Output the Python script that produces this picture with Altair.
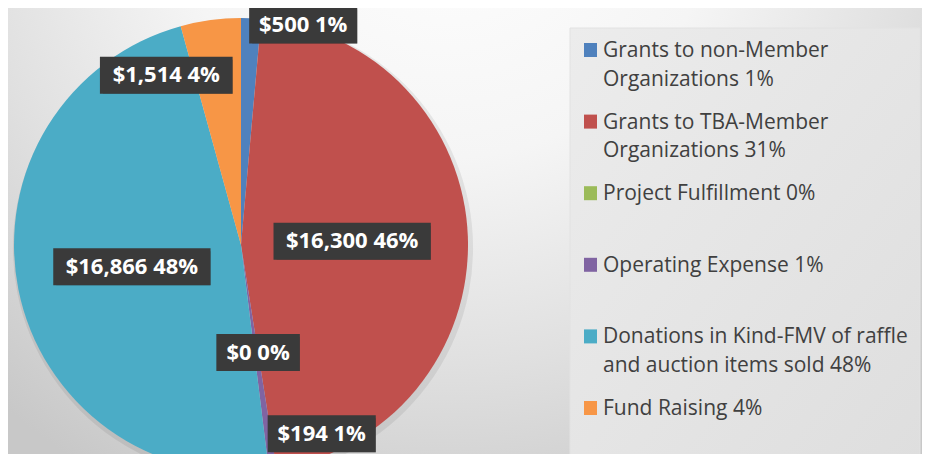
import altair as alt
import pandas as pd

# ---- data ----
categories = [
    "Grants to non-Member Organizations",
    "Grants to TBA-Member Organizations",
    "Project Fulfillment",
    "Operating Expense",
    "Donations in Kind-FMV of raffle and auction items sold",
    "Fund Raising",
]
legend_labels = [
    "Grants to non-Member\nOrganizations 1%",
    "Grants to TBA-Member\nOrganizations 31%",
    "Project Fulfillment 0%",
    "Operating Expense 1%",
    "Donations in Kind-FMV of raffle\nand auction items sold 48%",
    "Fund Raising 4%",
]
amounts = [500, 16300, 0, 194, 16866, 1514]
amount_labels = ["$500", "$16,300", "$0", "$194", "$16,866", "$1,514"]
pct_labels = ["1%", "46%", "0%", "1%", "48%", "4%"]
colors = ["#4F81BD", "#C0504D", "#9BBB59", "#8064A2", "#4BACC6", "#F79646"]

# ---- layout (not data) ----
W, H = 914, 446
CX, CY, R = 233, 237, 227
label_radius = [0.97, 0.49, 0.48, 0.84, 0.49, 0.755]   # fraction of R
label_shift = [0.97, 0.0, 0.0, 1.0, 0.0, 0.78]        # fraction of half box width
LEG_Y0, LEG_STEP = 49, 71.6

df = pd.DataFrame({
    "category": categories,
    "legend": legend_labels,
    "amount": amounts,
    "label": [a + " " + p for a, p in zip(amount_labels, pct_labels)],
    "order": list(range(len(categories))),
    "lr": label_radius,
    "ls": label_shift,
})

one = pd.DataFrame({"k": [0]})

background = alt.Chart(one).mark_rect(
    fill={
        "gradient": "radial",
        "x1": 0.48, "y1": 0.12, "r1": 0.0,
        "x2": 0.48, "y2": 0.12, "r2": 0.75,
        "stops": [
            {"offset": 0.0, "color": "#ffffff"},
            {"offset": 0.4, "color": "#f5f5f5"},
            {"offset": 0.7, "color": "#e0e0e0"},
            {"offset": 1.0, "color": "#c8c8c8"},
        ],
    }
).encode(x=alt.value(0), x2=alt.value(W), y=alt.value(0), y2=alt.value(H))

legend_box = alt.Chart(one).mark_rect(
    fill={
        "gradient": "linear",
        "x1": 0, "y1": 0, "x2": 1, "y2": 1,
        "stops": [
            {"offset": 0.0, "color": "#ececec"},
            {"offset": 1.0, "color": "#dedede"},
        ],
    },
    stroke="#e2e2e2",
    strokeWidth=1,
).encode(x=alt.value(562), x2=alt.value(912), y=alt.value(20), y2=alt.value(H + 10))

color_scale = alt.Scale(domain=categories, range=colors)

base = alt.Chart(df)

pie_shadow = alt.Chart(one).mark_arc(
    radius=R + 3, theta=0, theta2=6.2832, color="#000000", opacity=0.07
).encode(x=alt.value(CX + 2), y=alt.value(CY + 3))

pie = base.mark_arc(radius=R).encode(
    theta=alt.Theta("amount:Q", stack=True),
    color=alt.Color("category:N", scale=color_scale, legend=None),
    order=alt.Order("order:Q"),
    x=alt.value(CX),
    y=alt.value(CY),
)

lab = (
    base.transform_joinaggregate(total="sum(amount)")
    .transform_window(cum="sum(amount)", sort=[alt.SortField("order")], frame=[None, 0])
    .transform_calculate(a="2*PI*(datum.cum - datum.amount/2)/datum.total")
    .transform_calculate(hw="6.15*length(datum.label)+11")
    .transform_calculate(
        lx=f"{CX} + datum.lr*{R}*sin(datum.a) + datum.ls*datum.hw*(sin(datum.a) >= 0 ? 1 : -1)"
    )
    .transform_calculate(ly=f"{CY} - datum.lr*{R}*cos(datum.a)")
    .transform_calculate(x1="datum.lx - datum.hw", x2="datum.lx + datum.hw")
    .transform_calculate(y1="datum.ly - 18.5", y2="datum.ly + 18.5")
)

box_shadow = lab.mark_rect(color="#000000", opacity=0.3, xOffset=3, yOffset=3).encode(
    x=alt.X("x1:Q", scale=None), x2="x2:Q", y=alt.Y("y1:Q", scale=None), y2="y2:Q"
)
boxes = lab.mark_rect(color="#3a3a3a").encode(
    x=alt.X("x1:Q", scale=None), x2="x2:Q", y=alt.Y("y1:Q", scale=None), y2="y2:Q"
)
texts = lab.mark_text(
    font="Open Sans", fontWeight="bold", fontSize=22, color="#ffffff",
    align="center", baseline="middle",
).encode(x=alt.X("lx:Q", scale=None), y=alt.Y("ly:Q", scale=None), text="label:N")

leg = base.transform_calculate(ly=f"{LEG_Y0} + datum.order*{LEG_STEP}").transform_calculate(
    sy="datum.ly - 14"
)
leg_sq = leg.mark_rect().encode(
    x=alt.value(576), x2=alt.value(589),
    y=alt.Y("sy:Q", scale=None), y2="ly:Q",
    color=alt.Color("category:N", scale=color_scale, legend=None),
)
leg_txt = leg.mark_text(
    font="Open Sans", fontSize=21, color="#404040", align="left",
    baseline="alphabetic", lineBreak="\n", lineHeight=28.5,
).encode(x=alt.value(595), y=alt.Y("ly:Q", scale=None), text="legend:N")

chart = alt.layer(
    background, legend_box, pie_shadow, pie, box_shadow, boxes, texts, leg_sq, leg_txt
).properties(
    width=W, height=H, padding=0, autosize=alt.AutoSizeParams(type="none")
).configure_view(stroke=None)

chart.save("out.html", embed_options={"renderer": "svg", "actions": False})
